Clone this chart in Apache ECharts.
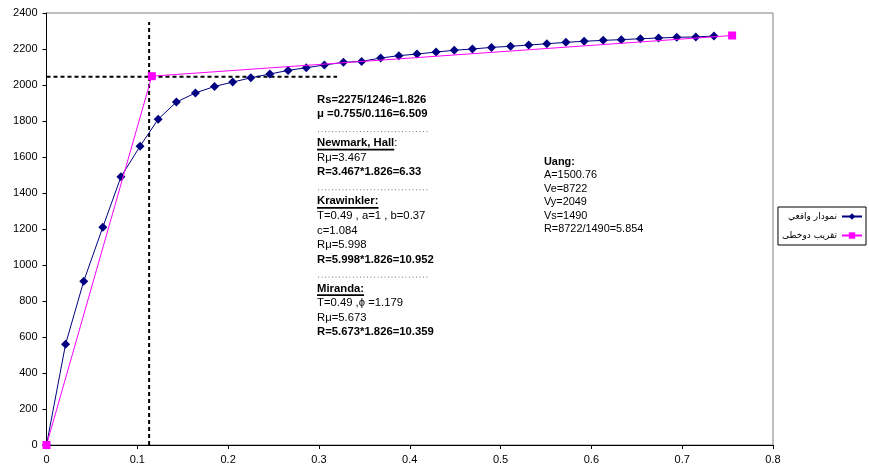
<!DOCTYPE html>
<html>
<head>
<meta charset="utf-8">
<script src="https://cdn.jsdelivr.net/npm/echarts@6/dist/echarts.min.js"></script>
<style>
html,body{margin:0;padding:0;background:#fff;}
#chart{width:869px;height:468px;}
</style>
</head>
<body>
<div id="chart"></div>
<script>
// ---- data ----
var seriesNames = ['نمودار واقعي', 'تقریب دوخطی'];
var realX = [0, 0.021, 0.041, 0.062, 0.082, 0.103, 0.123, 0.143, 0.164, 0.185,
             0.205, 0.225, 0.246, 0.266, 0.286, 0.306, 0.327, 0.347, 0.368, 0.388,
             0.408, 0.429, 0.449, 0.469, 0.490, 0.511, 0.531, 0.551, 0.572, 0.592,
             0.613, 0.633, 0.654, 0.674, 0.694, 0.715, 0.735];
var realY = [0, 560, 910, 1210, 1490, 1660, 1810, 1905, 1956, 1992,
             2016, 2040, 2061, 2081, 2096, 2111, 2126, 2131, 2150, 2163,
             2172, 2183, 2193, 2200, 2209, 2215, 2222, 2229, 2237, 2243,
             2248, 2252, 2257, 2261, 2265, 2267, 2272];
var biX = [0, 0.116, 0.755];
var biY = [0, 2049, 2275];
var guideVX = [0.113, 0.113];
var guideVY = [0, 2350];
var guideHX = [0, 0.32];
var guideHY = [2046, 2046];
var xTicks = [0, 0.1, 0.2, 0.3, 0.4, 0.5, 0.6, 0.7, 0.8];
var yTicks = [0, 200, 400, 600, 800, 1000, 1200, 1400, 1600, 1800, 2000, 2200, 2400];

// annotation text: [text, style, plainSuffix] ; style: b = bold, u = bold underlined, n = normal, d = dots
var noteLines = [
  ['Rs=2275/1246=1.826', 'b'],
  ['\u03bc =0.755/0.116=6.509', 'b'],
  ['', 'd'],
  ['Newmark, Hall', 'u', ':'],
  ['R\u03bc=3.467', 'n'],
  ['R=3.467*1.826=6.33', 'b'],
  ['', 'd'],
  ['Krawinkler:', 'u'],
  ['T=0.49 , a=1 , b=0.37', 'n'],
  ['c=1.084', 'n'],
  ['R\u03bc=5.998', 'n'],
  ['R=5.998*1.826=10.952', 'b'],
  ['', 'd'],
  ['Miranda:', 'u'],
  ['T=0.49 ,\u03d5 =1.179', 'n'],
  ['R\u03bc=5.673', 'n'],
  ['R=5.673*1.826=10.359', 'b']
];
var uangLines = [
  ['Uang:', 'b'],
  ['A=1500.76', 'n'],
  ['Ve=8722', 'n'],
  ['Vy=2049', 'n'],
  ['Vs=1490', 'n'],
  ['R=8722/1490=5.854', 'n']
];

function pairs(xs, ys) { return xs.map(function (x, i) { return [x, ys[i]]; }); }

var FONT = "'Liberation Sans', Arial, sans-serif";
var chart = echarts.init(document.getElementById('chart'), null, {renderer: 'canvas'});

function measure(text, font) {
  var c = document.createElement('canvas').getContext('2d');
  c.font = font;
  return c.measureText(text).width;
}

var graphics = [];
function addBlock(lines, x0, y0, step, size) {
  lines.forEach(function (ln, i) {
    var y = y0 + i * step;
    var kind = ln[1];
    if (kind === 'd') {
      graphics.push({type: 'line', silent: true,
        shape: {x1: x0 + 1, y1: y + 3, x2: x0 + 112, y2: y + 3},
        style: {stroke: '#777', lineWidth: 1, lineDash: [1, 2.5]}});
      return;
    }
    var bold = (kind === 'b' || kind === 'u');
    var font = (bold ? 'bold ' : '') + size + 'px ' + FONT;
    graphics.push({type: 'text', silent: true, x: x0, y: y,
      style: {text: ln[0], font: font, fill: '#000', verticalAlign: 'middle', align: 'left'}});
    if (kind === 'u') {
      var w = measure(ln[0], font);
      graphics.push({type: 'line', silent: true,
        shape: {x1: x0, y1: y + 6.5, x2: x0 + w, y2: y + 6.5},
        style: {stroke: '#000', lineWidth: 1.6}});
      if (ln[2]) {
        graphics.push({type: 'text', silent: true, x: x0 + w, y: y,
          style: {text: ln[2], font: size + 'px ' + FONT, fill: '#000', verticalAlign: 'middle', align: 'left'}});
      }
    }
  });
}
addBlock(noteLines, 317, 99.5, 14.55, 11.3);
addBlock(uangLines, 544, 162, 13.4, 10.9);

var option = {
  backgroundColor: '#fff',
  animation: false,
  grid: {left: 46.5, right: 96, top: 13, bottom: 23, show: true, borderColor: '#808080', borderWidth: 1, backgroundColor: 'transparent'},
  legend: {
    data: seriesNames,
    orient: 'vertical',
    right: 3, top: 207,
    align: 'right',
    itemWidth: 20, itemHeight: 8, itemGap: 10,
    padding: [5, 3, 5, 4],
    borderColor: '#000', borderWidth: 1,
    backgroundColor: '#fff',
    textStyle: {fontFamily: "'DejaVu Sans', sans-serif", fontSize: 9, color: '#000', padding: [0, 0, 0, 0]}
  },
  xAxis: {
    type: 'value', min: xTicks[0], max: xTicks[xTicks.length - 1], interval: 0.1,
    axisLine: {show: true, onZero: false, lineStyle: {color: '#000'}},
    axisTick: {show: true, length: 4, lineStyle: {color: '#000'}},
    splitLine: {show: false},
    axisLabel: {margin: 9, fontFamily: FONT, fontSize: 11, color: '#000',
      formatter: function (v) { return String(+v.toFixed(2)); }}
  },
  yAxis: {
    type: 'value', min: yTicks[0], max: yTicks[yTicks.length - 1], interval: 200,
    axisLine: {show: true, onZero: false, lineStyle: {color: '#000'}},
    axisTick: {show: true, length: 4, lineStyle: {color: '#000'}},
    splitLine: {show: false},
    axisLabel: {margin: 9, fontFamily: FONT, fontSize: 11, color: '#000',
      formatter: function (v) { return String(Math.round(v)); }}
  },
  series: [
    {name: 'guideV', type: 'line', data: pairs(guideVX, guideVY), symbol: 'none', silent: true,
      lineStyle: {color: '#000', width: 2, type: [4, 3]}, z: 2},
    {name: 'guideH', type: 'line', data: pairs(guideHX, guideHY), symbol: 'none', silent: true,
      lineStyle: {color: '#000', width: 2, type: [4, 3]}, z: 2},
    {name: seriesNames[0], type: 'line', data: pairs(realX, realY),
      symbol: 'diamond', symbolSize: 9, itemStyle: {color: '#000080'},
      lineStyle: {color: '#000080', width: 1}, z: 3},
    {name: seriesNames[1], type: 'line', data: pairs(biX, biY),
      symbol: 'rect', symbolSize: 8, itemStyle: {color: '#ff00ff'},
      lineStyle: {color: '#ff00ff', width: 1}, z: 4}
  ],
  graphic: graphics
};
chart.setOption(option);
</script>
</body>
</html>
